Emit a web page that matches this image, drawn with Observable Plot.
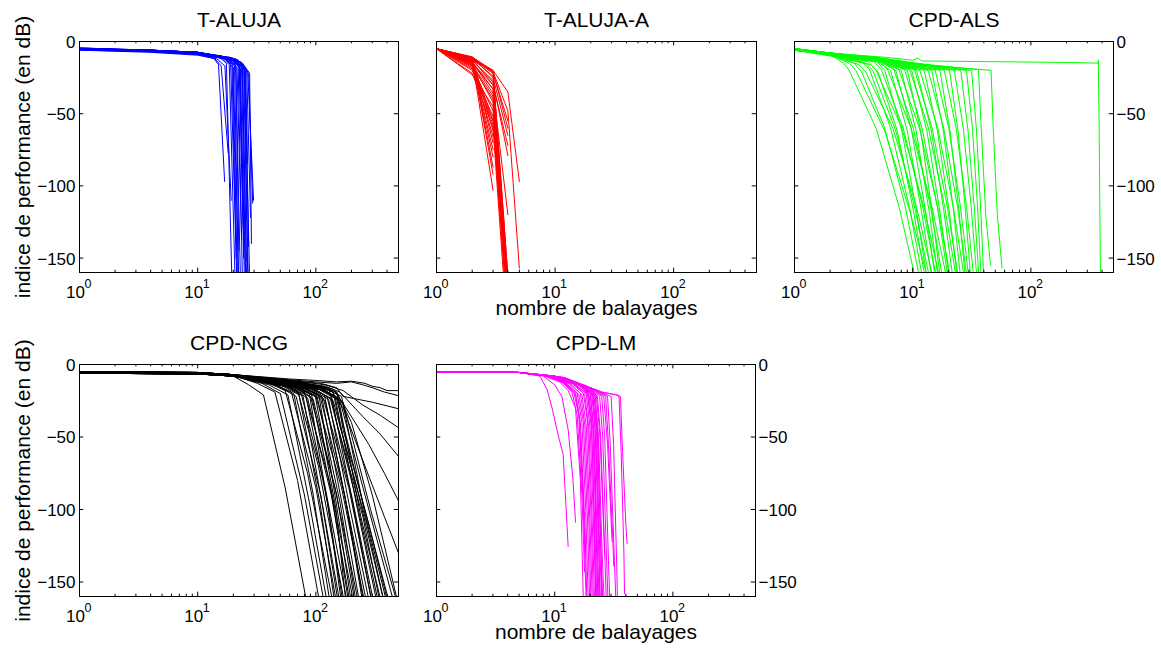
<!DOCTYPE html>
<html>
<head>
<meta charset="utf-8">
<script src="https://cdn.jsdelivr.net/npm/d3@7"></script>
<script src="https://cdn.jsdelivr.net/npm/@observablehq/plot@0.6"></script>
<style>
  html, body { margin: 0; padding: 0; background: #fff; }
  #fig { position: relative; width: 1161px; height: 648px; background: #fff; overflow: hidden; }
</style>
</head>
<body>
<div id="fig"></div>
<script>
// ---- tick values ----
const xMajorTicks = [1, 10, 100];
const xMajorExponents = ["0", "1", "2"];
const xMinorTicks = [2,3,4,5,6,7,8,9,20,30,40,50,60,70,80,90,200,300,400];
const yTicks = [0, -50, -100, -150];
const xDomain = [1, 500];
const yDomain = [-160, 0];

const panelTitles = ["T-ALUJA", "T-ALUJA-A", "CPD-ALS", "CPD-NCG", "CPD-LM"];
const yAxisLabel = "indice de performance (en dB)";
const xAxisLabel = "nombre de balayages";

const alujaCurves = [
 [1,-5,4,-6.5,10,-8.5,13.5,-11,15,-16,16.9,-97],
 [1,-5.5,4,-7,10,-9,14,-12,15.8,-17,18.1,-77],
 [1,-5,4,-6,10,-8,15,-10.5,17.5,-15,19.6,-175],
 [1,-5.5,4,-6.5,10,-8,16,-11,18.5,-16,20.8,-170],
 [1,-4.5,4,-6,10,-7.5,16,-10,19,-15,21.5,-168],
 [1,-5,4,-6.5,10,-8,17,-11,19.5,-17,21.2,-150],
 [1,-5.5,4,-7,10,-9,17,-12,20,-18,22.5,-180],
 [1,-5,4,-6,10,-7.5,18,-11,21,-17,23,-165],
 [1,-6,4,-7,10,-8.5,18,-12,21.5,-18,23.5,-137],
 [1,-5,4,-6.5,10,-8,19,-12,22,-17,24,-172],
 [1,-5.5,4,-6.5,10,-8,19,-11,22.5,-18,24.5,-150],
 [1,-5,4,-6,10,-7.5,20,-12,23,-19,25,-178],
 [1,-4.5,4,-6,10,-7.5,20,-11.5,23.5,-18,25.5,-165],
 [1,-5,4,-6.5,10,-8,21,-12,24,-19,26,-170],
 [1,-5.5,4,-7,10,-8.5,21,-13,24.5,-20,26.5,-160],
 [1,-5,4,-6,10,-7.5,22,-13,25,-20,27,-142],
 [1,-5,4,-6.5,10,-8,22,-13,25.5,-21,26.4,-85],
 [1,-5.5,4,-6.5,10,-8,22.5,-14,26,-21,28,-122],
 [1,-5,4,-6,10,-7.5,23,-14,26.5,-21,29.7,-110],
 [1,-5,4,-6.5,10,-8,23,-14,27,-22,29.2,-112],
 [1,-4.5,4,-6,10,-7.5,20,-12,22.5,-17,24.3,-128],
 [1,-5.5,4,-7,10,-9,18,-12,21,-16,22.3,-145],
 [1,-5,4,-6.5,10,-8,19.5,-12,22.8,-18,25.2,-155],
 [1,-5,4,-6,10,-7.5,21.5,-12.5,24.8,-19,26.8,-168],
 [1,-5.5,4,-6.5,10,-8.5,17.5,-11.5,20.5,-17,22,-160],
 [1,-5,4,-6.5,10,-8,16.5,-11,19.8,-16,21.8,-175],
 [1,-6,4,-7.5,10,-9.5,14.5,-12,17,-17,19.2,-110],
 [1,-5,4,-6.5,10,-8,24,-15,27.5,-22,28.5,-140],
 [1,-5,4,-6,10,-7.5,20.5,-12,23.8,-19,25.8,-152],
 [1,-5.5,4,-7,10,-8.5,22,-13,25.2,-19,27.5,-165]
];

const alujaACurves = [
 [1,-5,2,-13,3,-103],
 [1,-5,2,-12,3,-87],
 [1,-5,2,-14,3,-80],
 [1,-5,2,-15,3,-75],
 [1,-5,2,-13,3,-70],
 [1,-5,2,-16,3,-66],
 [1,-5,2,-12,3,-62],
 [1,-5,2,-17,3,-58],
 [1,-5,2,-14,3,-55],
 [1,-5,2,-11,3,-92],
 [1,-5,2,-12,3,-22,4,-55],
 [1,-5,2,-11,3,-25,4,-65],
 [1,-5,2,-13,3,-28,4,-79],
 [1,-5,2,-12,3,-30,4,-72],
 [1,-5,2,-14,3,-33,4,-120],
 [1,-5,2,-10.6,3,-21,4,-60],
 [1,-5,2,-13,3,-20,4,-163],
 [1,-5,2,-12,3,-24,4,-168],
 [1,-5,2,-15,3,-30,4,-172],
 [1,-5,2,-14,3,-36,4,-176],
 [1,-5,2,-16,3,-42,4,-180],
 [1,-5,2,-18,3,-48,4,-185],
 [1,-5,2,-20,3,-55,4,-195],
 [1,-5,2,-17,3,-40,4,-170],
 [1,-5,2,-13,3,-27,4,-166],
 [1,-5,2,-19,3,-52,4,-190],
 [1,-5,2,-22,3,-60,4,-205],
 [1,-5,2,-11,3,-22,4,-162],
 [1,-5,2,-15,3,-33,4,-175],
 [1,-5,2,-23,3,-45,4,-182],
 [1,-5,2,-16,3,-38,4,-168],
 [1,-5,2,-11,3,-20,4,-35,5,-97],
 [1,-5,2,-12,3,-21,4,-48,5,-157]
];

const alsCurves = [
 [1,-5,2,-9,2.6,-15,2.9,-20,4.9,-60,7.7,-115,10.6,-165],
 [1,-5.5,2,-9,2.9,-15,3.3,-20,5.8,-62,9.5,-118,13.5,-165],
 [1,-5,2,-8.5,3.2,-15,3.7,-21,5.8,-60,8.7,-115,11.5,-165],
 [1,-6,2,-9.5,3.5,-16,4,-21,6.8,-60,10.8,-115,15,-165],
 [1,-5,2,-8,3.7,-14,4.3,-19,6.5,-60,9.4,-115,12.2,-165],
 [1,-5.5,2,-9,4,-15,4.6,-20,7.2,-62,10.6,-118,14,-165],
 [1,-5,2,-8.5,4.2,-14,4.9,-20,8.1,-60,12.5,-115,17,-165],
 [1,-6,2,-10,4.4,-16,5.1,-21,7.4,-62,10.2,-118,12.8,-165],
 [1,-5,2,-8,4.7,-14,5.4,-19,8.3,-60,12.2,-115,16,-165],
 [1,-5.5,2,-8.5,5,-14,5.8,-20,8.1,-62,10.8,-118,13.3,-165],
 [1,-5,2,-8,5,-13,6.1,-19,9.7,-60,14.6,-115,19.5,-165],
 [1,-6,2,-9.5,5,-14,6.5,-20,9,-62,11.9,-118,14.6,-165],
 [1,-5,2,-8,5,-12,6.9,-19,10.1,-60,14.2,-115,18,-165],
 [1,-5.5,2,-8.5,5,-13,7.2,-20,9.8,-62,12.9,-118,15.6,-165],
 [1,-5,2,-8,5,-12,7.6,-19,11.4,-60,16.3,-115,21,-165],
 [1,-6,2,-9,5,-13,8,-20,10.7,-62,13.8,-118,16.5,-165],
 [1,-5,2,-8,5,-12,8.5,-19,12,-60,16.2,-115,20,-165],
 [1,-5.5,2,-8.5,5,-12.5,9,-20,11.7,-62,14.6,-118,17.2,-165],
 [1,-5,2,-8,5,-11.5,9.4,-19,13.6,-60,18.7,-115,23.5,-165],
 [1,-6,2,-9,5,-12.5,9.8,-20,13.2,-62,17,-118,20.5,-165],
 [1,-5,2,-8,5,-11,10.3,-19,14.6,-60,19.7,-115,24.5,-165],
 [1,-5.5,2,-8.5,5,-12,10.8,-20,14.4,-62,18.4,-118,22,-165],
 [1,-5,2,-8,5,-11.5,11.5,-20,16.3,-60,22.1,-115,27.5,-165],
 [1,-6,2,-9,5,-12,12.5,-20,16.2,-62,20.4,-118,24,-165],
 [1,-5,2,-8,5,-11,13.5,-20,18.3,-60,24,-115,29,-165],
 [1,-5.5,2,-8.5,5,-12,14.5,-20,18.2,-62,22.2,-118,25.5,-165],
 [1,-5,2,-8,6,-12.5,15.5,-20,20.2,-60,25.4,-115,30,-165],
 [1,-6,2,-9,6,-13,17,-20,20.7,-62,24.7,-118,28,-165],
 [1,-5,2,-8,6,-12,18.5,-20,23.3,-60,28.6,-115,33,-165],
 [1,-5.5,2,-8.5,6,-12.5,20.5,-20,24.2,-62,28,-118,31,-165],
 [1,-5,2,-8,6,-12,22.5,-20,26.8,-60,31.3,-115,35,-165],
 [1,-6,2,-9,8,-14,25.5,-20,29.4,-62,33.4,-118,36.5,-165],
 [1,-5,2,-8,8,-13.5,28.5,-20,32,-60,35.4,-115,38,-165],
 [1,-5.5,2,-8.5,8,-14,31.5,-20,34.7,-62,37.7,-118,40,-165],
 [1,-5,2,-8,10,-15,36,-19.5,38,-60,41.5,-120,45.5,-155],
 [1,-5.5,2,-8.5,10,-15.5,46,-20,48,-60,52,-120,57,-157],
 [1,-5,2,-8,6,-11,10,-13,11,-11.5,12,-13.5,50,-14,200,-14.5,370,-15,372,-13,378,-60,388,-165]
];

const ncgCurves = [
 [1,-5.5,10,-6,20,-8,27,-14,36,-21,55,-85,84,-165],
 [1,-5.5,10,-6,20,-7.5,32,-13,45,-19,70,-80,108,-165],
 [1,-6,10,-6.5,20,-8,35,-13,50,-20,80,-90,118,-165],
 [1,-5,10,-5.5,20,-7,38,-12,55,-18,85,-75,140,-165],
 [1,-5.5,10,-6,20,-7.5,40,-14,58,-21,88,-95,125,-165],
 [1,-6,10,-6.5,20,-8,43,-13,62,-19,100,-85,150,-165],
 [1,-5.5,10,-6,20,-7.5,45,-14,65,-20,95,-90,132,-165],
 [1,-5,10,-5.5,20,-7,48,-15,68,-22,110,-90,160,-165],
 [1,-5.5,10,-6,20,-7.5,50,-13,70,-18,105,-70,175,-165],
 [1,-6,10,-6.5,20,-8,50,-14,72,-21,108,-95,145,-165],
 [1,-5.5,10,-6,20,-7.5,52,-14,75,-20,120,-85,185,-165],
 [1,-5,10,-5.5,20,-7,55,-15,78,-22,115,-100,155,-165],
 [1,-5.5,10,-6,20,-7.5,56,-14,80,-19,130,-80,210,-165],
 [1,-6,10,-6.5,20,-8,58,-15,82,-21,125,-95,170,-165],
 [1,-5.5,10,-6,20,-7.5,60,-16,85,-23,135,-90,195,-165],
 [1,-5,10,-5.5,20,-7,62,-14,88,-20,128,-100,165,-165],
 [1,-5.5,10,-6,20,-7.5,63,-15,90,-22,145,-85,230,-165],
 [1,-6,10,-6.5,20,-8,65,-15,92,-21,140,-95,190,-165],
 [1,-5.5,10,-6,20,-7.5,67,-16,95,-24,150,-90,215,-165],
 [1,-5,10,-5.5,20,-7,69,-14,98,-20,148,-100,180,-165],
 [1,-5.5,10,-6,20,-7.5,70,-15,100,-22,165,-85,260,-165],
 [1,-6,10,-6.5,20,-8,72,-16,103,-23,160,-95,220,-165],
 [1,-5.5,10,-6,20,-7.5,74,-15,106,-21,155,-105,200,-165],
 [1,-5,10,-5.5,20,-7,77,-16,110,-24,175,-90,250,-165],
 [1,-5.5,10,-6,20,-7.5,78,-15,112,-22,170,-100,235,-165],
 [1,-6,10,-6.5,20,-8,80,-16,115,-23,190,-85,300,-165],
 [1,-5.5,10,-6,20,-7.5,83,-15,118,-21,180,-95,270,-165],
 [1,-5,10,-5.5,20,-7,84,-17,120,-25,185,-100,255,-165],
 [1,-5.5,10,-6,20,-7.5,87,-16,124,-22,200,-90,310,-165],
 [1,-6,10,-6.5,20,-8,90,-17,128,-24,195,-100,285,-165],
 [1,-5.5,10,-6,20,-7.5,92,-16,132,-23,215,-90,340,-165],
 [1,-5,10,-5.5,20,-7,95,-15,135,-21,210,-100,300,-165],
 [1,-5.5,10,-6,20,-7.5,98,-17,140,-25,230,-90,380,-165],
 [1,-6,10,-6.5,20,-8,100,-16,145,-22,225,-100,330,-165],
 [1,-5.5,10,-6,20,-7.5,105,-17,150,-24,250,-95,420,-165],
 [1,-5,10,-5.5,20,-7,108,-16,155,-23,240,-105,360,-165],
 [1,-5.5,10,-6,20,-7.5,112,-17,160,-25,270,-95,460,-165],
 [1,-6,10,-6.5,20,-8,115,-16,165,-22,255,-100,400,-165],
 [1,-5.5,10,-6,20,-7.5,120,-18,170,-26,290,-100,490,-165],
 [1,-5.5,10,-6,20,-7.5,90,-14,130,-18,150,-40,250,-105,350,-165],
 [1,-6,10,-6.5,20,-8,100,-15,140,-19,160,-42,270,-110,380,-165],
 [1,-5.5,10,-6,20,-7.5,110,-15,150,-19,170,-45,280,-110,410,-165],
 [1,-5.5,10,-6,20,-7,60,-10,100,-11,150,-12,200,-11.5,260,-13,300,-15,350,-16,400,-18,500,-18],
 [1,-5.5,10,-6,20,-7,60,-10.5,100,-12,150,-13,200,-12,250,-14,300,-16,380,-19,500,-21.5],
 [1,-5,10,-5.5,20,-7,60,-11,110,-13,150,-16,170,-22,300,-26,500,-30.5],
 [1,-5.5,10,-6,20,-7.5,60,-11,120,-14,170,-18,250,-28,350,-35,500,-43.6],
 [1,-6,10,-6.5,20,-8,60,-11.5,120,-15,160,-19,250,-36,350,-48,500,-63.4],
 [1,-5.5,10,-6,20,-7.5,70,-12,140,-17,180,-30,280,-55,380,-75,500,-94],
 [1,-5.5,10,-6,20,-7.5,70,-12,130,-16,170,-30,260,-70,380,-105,500,-130],
 [1,-5,10,-5.5,20,-7,80,-13,150,-19,200,-40,300,-90,420,-140,480,-160]
];

const lmCurves = [
 [1,-5,5,-5.5,7.5,-8,8.6,-17,9.5,-30,10.8,-50,11.8,-62,13,-125.5],
 [1,-5,5,-5.5,8,-8,10,-14,11.5,-22,13,-45,14.3,-80,15,-108.7],
 [1,-5,5,-5.5,8,-7.5,11,-12,13,-18,15,-30,16.5,-80,17.5,-165],
 [1,-5,5,-5.5,8,-7.5,11.5,-12,14,-19,15.5,-35,17,-90,17.9,-143],
 [1,-5,5,-5.5,9,-8,12,-13,14.5,-19,16,-35,17.5,-100,18.5,-165],
 [1,-5,5,-5.5,9,-8,12,-12,15,-20,16.5,-40,18,-110,18.8,-168],
 [1,-5,5,-5.5,9,-8,12.5,-13,15.5,-20,17,-40,18.3,-100,19.2,-162],
 [1,-5,5,-5.5,9,-8,13,-13,16,-21,17.5,-40,19,-110,19.8,-165],
 [1,-5,5,-5.5,9,-8,13,-12,16.5,-20,18,-42,19.5,-110,20.3,-166],
 [1,-5,5,-5.5,9,-8,13.5,-13,17,-21,18.5,-42,20,-115,20.8,-163],
 [1,-5,5,-5.5,10,-8.5,14,-13,17.5,-20,19,-40,20.5,-115,21.3,-165],
 [1,-5,5,-5.5,10,-8.5,14,-12,18,-21,19.5,-45,21,-120,21.8,-166],
 [1,-5,5,-5.5,10,-8.5,14.5,-13,18.5,-20,20,-45,21.5,-120,22.3,-164],
 [1,-5,5,-5.5,10,-8.5,15,-14,19,-21,20.5,-45,22,-120,22.8,-165],
 [1,-5,5,-5.5,10,-8.5,15.5,-13,19.5,-21,21,-45,22.5,-120,23.3,-162],
 [1,-5,5,-5.5,10,-8,16,-14,20,-21,21.5,-45,23,-125,23.8,-165],
 [1,-5,5,-5.5,10,-8,16.5,-14,20.5,-20,22,-45,23.5,-125,24.4,-166],
 [1,-5,5,-5.5,10,-8,17,-14,21,-21,22.5,-45,24,-125,25,-164],
 [1,-5,5,-5.5,10,-8,17.5,-15,21.5,-21,23,-50,24.6,-130,25.6,-165],
 [1,-5,5,-5.5,10,-8,18,-15,22,-22,23.5,-50,25.2,-130,26.2,-163],
 [1,-5,5,-5.5,11,-9,18.5,-15,22.5,-21,24.2,-50,26.5,-131],
 [1,-5,5,-5.5,11,-9,19,-15,23,-22,24.5,-50,26.5,-130,27.4,-165],
 [1,-5,5,-5.5,11,-9,19.5,-16,24,-22,25.5,-50,27.5,-135,28.3,-164],
 [1,-5,5,-5.5,11,-9,20,-16,25,-22,26.5,-50,28.5,-135,29.3,-165],
 [1,-5,5,-5.5,11,-9,21,-17,26,-22,28,-55,30.6,-122],
 [1,-5,5,-5.5,11,-9,22,-18,27,-22,28.5,-55,31,-120,31.6,-139],
 [1,-5,5,-5.5,12,-9,23,-18,28,-22,29.5,-55,32,-135,33,-165],
 [1,-5,5,-5.5,12,-9,24,-19,30,-22,31.5,-55,33.5,-140,34,-165],
 [1,-5,5,-5.5,12,-9,25,-19,33,-21,35,-22,36.5,-60,38.5,-130,39,-158],
 [1,-5,5,-5.5,12,-9,25,-19,34,-21,36,-22,37.5,-60,40,-110,41,-123.6],
 [1,-5,5,-5.5,9,-8,12,-13,15,-20,16.2,-38,17.5,-95,18.1,-131],
 [1,-5,5,-5.5,10,-8,15,-13,19,-19,20.5,-40,21.6,-110,22.4,-165],
 [1,-5,5,-5.5,10,-8,16,-14,20,-20,21.3,-45,22.6,-120,23.2,-165],
 [1,-5,5,-5.5,10,-8.5,17,-15,21,-21,22.3,-50,23.7,-125,24.1,-164],
 [1,-5,5,-5.5,11,-9,18,-15,22,-21,23.2,-50,24.6,-125,25.2,-165]
];

// ---- helpers ----
function toRows(curves) {
  const rows = [];
  curves.forEach((c, id) => {
    for (let i = 0; i < c.length; i += 2) rows.push({id, x: c[i], y: c[i + 1]});
  });
  return rows;
}
const fmtY = d => d === 0 ? "0" : "\u2212" + Math.abs(d);
const FONT = "'Liberation Sans', Arial, Helvetica, sans-serif";
const ML = 79, MR = 46, MT = 41, MB = 52;
const fig = document.getElementById("fig");

function panel(o) {
  const width = ML + o.frameW + MR;
  const height = MT + o.frameH + MB;
  const xTickRows = xMajorTicks.map((v, i) => ({v, e: xMajorExponents[i]}));
  const marks = [
    Plot.line(toRows(o.curves), {x: "x", y: "y", z: "id", stroke: o.color, strokeWidth: 1, clip: true}),
    // inward ticks: bottom & top (major / minor)
    Plot.ruleX(xMajorTicks, {x: d => d, y1: -160, y2: -157, stroke: "black"}),
    Plot.ruleX(xMajorTicks, {x: d => d, y1: 0, y2: -3, stroke: "black"}),
    Plot.ruleX(xMinorTicks, {x: d => d, y1: -160, y2: -158.4, stroke: "black"}),
    Plot.ruleX(xMinorTicks, {x: d => d, y1: 0, y2: -1.6, stroke: "black"}),
    // inward ticks: left & right
    Plot.ruleY(yTicks, {y: d => d, x1: 1, x2: Math.pow(10, 0.036), stroke: "black"}),
    Plot.ruleY(yTicks, {y: d => d, x1: 500 / Math.pow(10, 0.036), x2: 500, stroke: "black"}),
    Plot.frame({stroke: "black", strokeWidth: 1}),
    // x tick labels 10^k
    Plot.text(xTickRows, {x: "v", text: () => "10", frameAnchor: "bottom", dy: 25, dx: -4,
      textAnchor: "middle", lineAnchor: "bottom", fontSize: 17, fill: "black"}),
    Plot.text(xTickRows, {x: "v", text: "e", frameAnchor: "bottom", dy: 15, dx: 5,
      textAnchor: "start", lineAnchor: "bottom", fontSize: 12.5, fill: "black"}),
    // title
    Plot.text([o.title], {text: d => d, frameAnchor: "top", dy: -14.5, textAnchor: "middle",
      lineAnchor: "bottom", fontSize: 21, fill: "black"})
  ];
  if (o.ySide === "left") {
    marks.push(Plot.text(yTicks, {y: d => d, text: fmtY, frameAnchor: "left", textAnchor: "end",
      dx: -4, dy: 1, fontSize: 17, fill: "black"}));
  } else if (o.ySide === "right") {
    marks.push(Plot.text(yTicks, {y: d => d, text: fmtY, frameAnchor: "right", textAnchor: "start",
      dx: 3, dy: 1, fontSize: 17, fill: "black"}));
  }
  if (o.yLabel) {
    marks.push(Plot.text([yAxisLabel], {text: d => d, frameAnchor: "left", rotate: -90, dx: -56,
      textAnchor: "middle", lineAnchor: "middle", fontSize: 21, fill: "black"}));
  }
  if (o.xLabel) {
    marks.push(Plot.text([xAxisLabel], {text: d => d, frameAnchor: "bottom", dy: 42,
      textAnchor: "middle", lineAnchor: "bottom", fontSize: 21, fill: "black"}));
  }
  const svg = Plot.plot({
    width, height,
    marginLeft: ML, marginRight: MR, marginTop: MT, marginBottom: MB,
    x: {type: "log", domain: xDomain, axis: null},
    y: {domain: yDomain, axis: null},
    style: `background: transparent; overflow: visible; max-width: none; font-family: ${FONT};`,
    marks
  });
  svg.style.position = "absolute";
  svg.style.left = (o.frameLeft - ML) + "px";
  svg.style.top = (o.frameTop - MT) + "px";
  fig.appendChild(svg);
}

panel({curves: alujaCurves, color: "#0000ff", title: panelTitles[0], frameLeft: 79, frameTop: 41, frameW: 319, frameH: 231, ySide: "left", yLabel: true});
panel({curves: alujaACurves, color: "#ff0000", title: panelTitles[1], frameLeft: 436, frameTop: 41, frameW: 320, frameH: 231, ySide: "none", xLabel: true});
panel({curves: alsCurves, color: "#00ff00", title: panelTitles[2], frameLeft: 794, frameTop: 41, frameW: 319, frameH: 231, ySide: "right"});
panel({curves: ncgCurves, color: "#000000", title: panelTitles[3], frameLeft: 79, frameTop: 364, frameW: 319, frameH: 232, ySide: "left", yLabel: true});
panel({curves: lmCurves, color: "#ff00ff", title: panelTitles[4], frameLeft: 436, frameTop: 364, frameW: 319, frameH: 232, ySide: "right", xLabel: true});
</script>
</body>
</html>
